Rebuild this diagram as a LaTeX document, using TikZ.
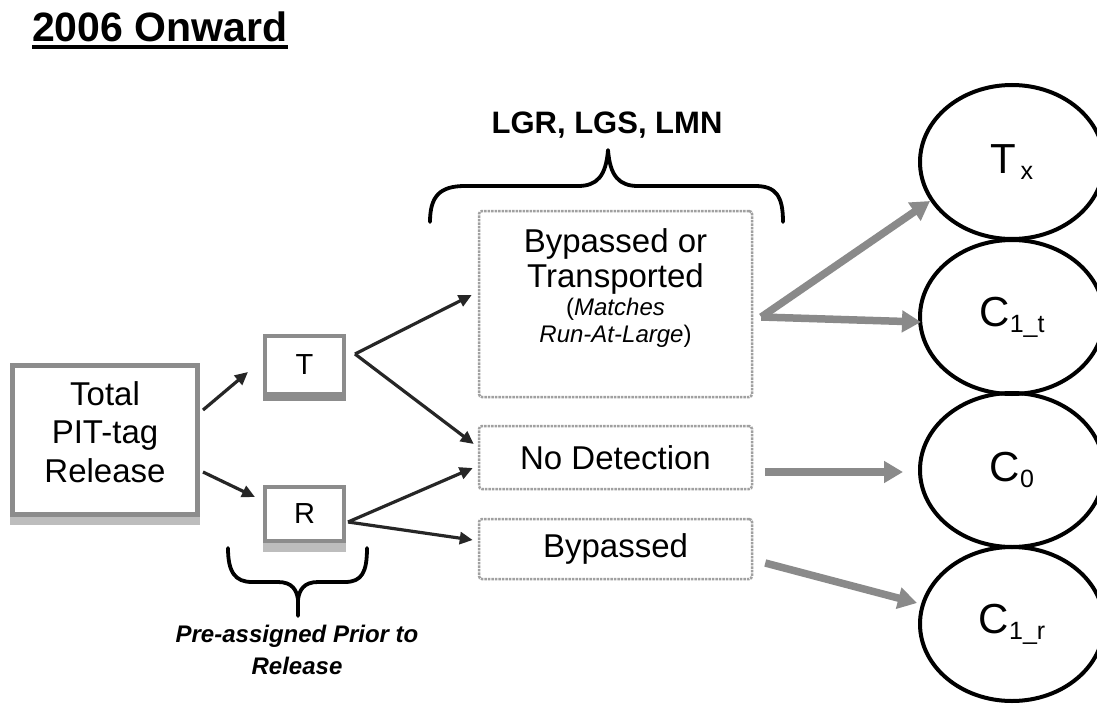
\documentclass[tikz,border=0pt]{standalone}
\usepackage{fontspec}
\setmainfont{Liberation Sans}
\usetikzlibrary{arrows.meta,calc,shapes.geometric}
\definecolor{boxgray}{HTML}{8C8C8C}
\definecolor{bandgray}{HTML}{BDBDBD}
\definecolor{arrowgray}{HTML}{8A8A8A}
\definecolor{dotgray}{HTML}{A0A0A0}
\definecolor{darkarrow}{HTML}{262626}
\newcommand\fsz[2]{\fontsize{#1}{#2}\selectfont}
\begin{document}
\begin{tikzpicture}[x=1pt,y=-1pt,
  solidbox/.style={draw=boxgray, fill=white, rectangle, align=center},
  dotbox/.style={draw=dotgray, densely dotted, line width=2.5pt, rounded corners=3pt, minimum width=273pt},
  outcome/.style={ellipse, draw=black, line width=4pt, minimum width=184pt, minimum height=154pt, inner sep=0pt},
  blkarrow/.style={draw=darkarrow, line width=3.2pt, -{Triangle[length=13pt,width=12pt]}},
  grayarrow/.style={draw=arrowgray, line width=7.5pt, -{Triangle[length=19pt,width=21pt]}},
  bracepath/.style={draw=black, line width=3.8pt, line cap=round, line join=round}
]
\path[use as bounding box, fill=white] (0,0) rectangle (1097,706);

% title
\node[anchor=base west, inner sep=0pt, font=\fsz{41}{44}\bfseries] (title) at (32,42) {2006 Onward};
\draw[line width=4.5pt] ($(title.base west)+(0,5)$) -- ($(title.base east)+(0,5)$);

% left boxes
\node[solidbox, line width=5pt, minimum width=185pt, minimum height=149pt, text depth=16pt,
      font=\fsz{33}{38.5}] (total) at (105,440) {Total\\PIT-tag\\Release};
\fill[bandgray] (total.south west) rectangle ($(total.south east)+(0,8)$);

\node[solidbox, line width=4pt, minimum width=79pt, minimum height=58pt,
      font=\fsz{29}{32}] (tbox) at (304.5,365) {T};
\fill[boxgray] (tbox.south west) rectangle ($(tbox.south east)+(0,5)$);

\node[solidbox, line width=4pt, minimum width=79pt, minimum height=54pt,
      font=\fsz{29}{32}] (rbox) at (304.5,514) {R};
\fill[bandgray] (rbox.south west) rectangle ($(rbox.south east)+(0,9)$);

% dotted boxes
\node[dotbox, minimum height=186pt] (bt) at (615.5,304) {};
\node[anchor=north, align=center, inner sep=3pt, font=\fsz{33}{35}] (bttext) at ($(bt.north)+(0,16)$)
  {Bypassed or\\Transported\\[-7pt]{\fsz{24}{35}(\textit{Matches}}\\[-8pt]{\fsz{24}{35}\textit{Run-At-Large})}};
\node[dotbox, minimum height=63pt, font=\fsz{33}{36}] (nd) at (615.5,457.5) {No Detection};
\node[dotbox, minimum height=60pt, font=\fsz{33}{36}] (bp) at (615.5,549) {Bypassed};

% outcome ellipses
\node[outcome, font=\fsz{42}{44}] (tx) at (1012,162) {T\raisebox{-6pt}{\fsz{25}{28}\,x}};
\node[outcome, font=\fsz{42}{44}] (c1t) at (1012,317) {C\raisebox{-6pt}{\fsz{25}{28}1\_t}};
\node[outcome, font=\fsz{42}{44}] (c0) at (1012,470) {C\raisebox{-6pt}{\fsz{25}{28}0}};
\node[outcome, font=\fsz{42}{44}] (c1r) at (1012,624) {C\raisebox{-6pt}{\fsz{25}{28}1\_r}};

% braces and labels
\node[anchor=base, font=\fsz{31}{36}\bfseries] (lgr) at (607,133) {LGR, LGS, LMN};
\draw[bracepath] (430,222) .. controls (430,196) and (440,186) .. (465,186) -- (578,186)
  .. controls (597,186) and (606,176) .. (608,150)
  .. controls (610,176) and (619,186) .. (638,186) -- (755,186)
  .. controls (776,186) and (783,196) .. (783,222);

\draw[bracepath] (228,548) .. controls (228,572) and (235,582) .. (252,582) -- (278,582)
  .. controls (292,582) and (297,590) .. (298,600) -- (298,616);
\draw[bracepath] (298,600) .. controls (299,590) and (304,582) .. (318,582) -- (345,582)
  .. controls (362,582) and (367,572) .. (367,548);
\node[align=center, font=\fsz{24}{32}\bfseries\itshape] (pre) at (297,650) {Pre-assigned Prior to\\Release};

% black arrows
\draw[blkarrow] ($(total.east)+(3,-30)$) -- ($(tbox.west)+(-15,7)$);
\draw[blkarrow] ($(total.east)+(3,32)$) -- ($(rbox.west)+(-8,-17)$);
\draw[blkarrow] ($(tbox.east)+(9,-11)$) -- ($(bt.west)+(-6,-9)$);
\draw[blkarrow] ($(tbox.east)+(9,-11)$) -- ($(nd.west)+(-4,-13.5)$);
\draw[blkarrow] ($(rbox.east)+(2,8)$) -- ($(nd.west)+(-5,10.5)$);
\draw[blkarrow] ($(rbox.east)+(2,8)$) -- ($(bp.west)+(-5,-9)$);

% gray arrows
\draw[grayarrow] ($(bt.east)+(8,13)$) -- ($(tx.center)+(-82,39)$);
\draw[grayarrow] ($(bt.east)+(8,13)$) -- ($(c1t.center)+(-91,5)$);
\draw[grayarrow] ($(nd.east)+(12,14.5)$) -- ($(c0.center)+(-109,2)$);
\draw[grayarrow] ($(bp.east)+(12,14)$) -- ($(c1r.center)+(-95,-21)$);
\end{tikzpicture}
\end{document}
